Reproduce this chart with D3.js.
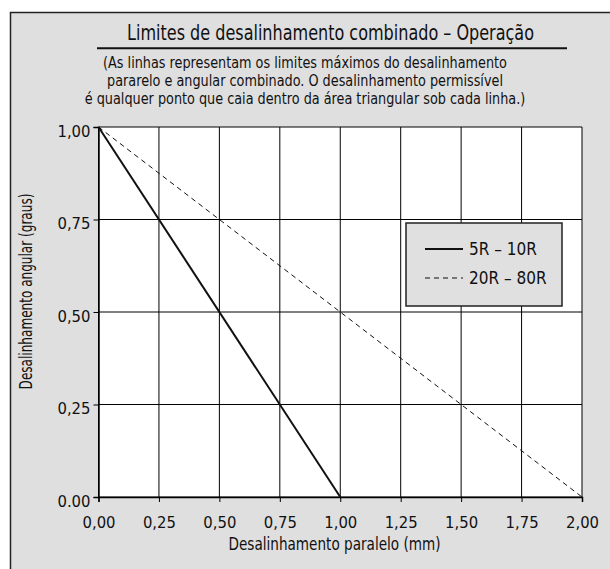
<!DOCTYPE html>
<html>
<head>
<meta charset="utf-8">
<script src="https://cdn.jsdelivr.net/npm/d3@7"></script>
<style>
  body { margin: 0; background: #fff; }
  text { font-family: "DejaVu Sans Condensed", "Roboto", sans-serif; fill: #111; }
</style>
</head>
<body>
<div id="chart"></div>
<script>
// chart data
const xTicks = [0, 0.25, 0.5, 0.75, 1, 1.25, 1.5, 1.75, 2];
const xTickLabels = ["0,00", "0,25", "0,50", "0,75", "1,00", "1,25", "1,50", "1,75", "2,00"];
const yTicks = [0, 0.25, 0.5, 0.75, 1];
const yTickLabels = ["0.00", "0,25", "0,50", "0,75", "1,00"];
const seriesNames = ["5R – 10R", "20R – 80R"];
const series5R = [{x: 0, y: 1}, {x: 1, y: 0}];
const series20R = [{x: 0, y: 1}, {x: 2, y: 0}];
const subtitleLines = [
  "(As linhas representam os limites máximos do desalinhamento",
  "pararelo e angular combinado. O desalinhamento permissível",
  "é qualquer ponto que caia dentro da área triangular sob cada linha.)"
];

const W = 610, H = 569;
const svg = d3.select("#chart").append("svg")
  .attr("width", W).attr("height", H);

// squeeze a text horizontally so it looks like the condensed face of the original
function narrow(sel, cx, cy, sx, rot) {
  sel.attr("text-anchor", "middle")
    .attr("transform", `translate(${cx},${cy})` + (rot ? ` rotate(${rot})` : "") + ` scale(${sx},1)`);
}

// grey panel with border on left and top
svg.append("rect").attr("x", 10).attr("y", 12).attr("width", W - 10).attr("height", H - 12)
  .attr("fill", "#dfdfdf");
svg.append("path").attr("d", `M10.5,${H} V12.5 H${W}`)
  .attr("fill", "none").attr("stroke", "#222").attr("stroke-width", 1.5);

const x = d3.scaleLinear().domain([0, 2]).range([98.5, 582]);
const y = d3.scaleLinear().domain([0, 1]).range([497, 127]);

// plot area
svg.append("rect")
  .attr("x", x(0)).attr("y", y(1))
  .attr("width", x(2) - x(0)).attr("height", y(0) - y(1))
  .attr("fill", "#fff");

// grid
const grid = svg.append("g").attr("stroke", "#000").attr("stroke-width", 1);
grid.selectAll(".vx").data(xTicks).join("line")
  .attr("x1", d => x(d)).attr("x2", d => x(d))
  .attr("y1", y(0)).attr("y2", y(1));
grid.selectAll(".hy").data(yTicks).join("line")
  .attr("x1", x(0)).attr("x2", x(2))
  .attr("y1", d => y(d)).attr("y2", d => y(d));

// axes
const xAxis = svg.append("g").attr("transform", `translate(0,${y(0)})`)
  .call(d3.axisBottom(x).tickValues(xTicks).tickFormat((d, i) => xTickLabels[i]).tickSize(5).tickPadding(14));
const yAxis = svg.append("g").attr("transform", `translate(${x(0)},0)`)
  .call(d3.axisLeft(y).tickValues(yTicks).tickFormat((d, i) => yTickLabels[i]).tickSize(5).tickPadding(3));
[xAxis, yAxis].forEach(a => {
  a.select(".domain").attr("stroke", "#000").attr("stroke-width", 1.5);
  a.selectAll(".tick line").attr("stroke", "#000");
  a.selectAll("text").attr("font-size", 16.5).attr("fill", "#111")
    .style("font-family", '"DejaVu Sans Condensed", sans-serif');
});
yAxis.selectAll("text").attr("dy", "0.55em");

// lines
const line = d3.line().x(d => x(d.x)).y(d => y(d.y));
svg.append("path").datum(series20R).attr("d", line)
  .attr("fill", "none").attr("stroke", "#111").attr("stroke-width", 1)
  .attr("stroke-dasharray", "5,4");
svg.append("path").datum(series5R).attr("d", line)
  .attr("fill", "none").attr("stroke", "#111").attr("stroke-width", 2);

// titles
svg.append("text").attr("font-size", 20.5)
  .text("Limites de desalinhamento combinado – Operação")
  .call(narrow, 330.5, 40, 0.87);
svg.append("line").attr("x1", 97).attr("x2", 567).attr("y1", 48.3).attr("y2", 48.3)
  .attr("stroke", "#111").attr("stroke-width", 2);
svg.append("g").selectAll("text").data(subtitleLines).join("text")
  .attr("font-size", 16.5).text(d => d)
  .each(function (d, i) { d3.select(this).call(narrow, 305, 68 + i * 18, 0.865); });

svg.append("text").attr("font-size", 18)
  .text("Desalinhamento paralelo (mm)")
  .call(narrow, 334.5, 550, 0.84);
svg.append("text").attr("font-size", 17)
  .text("Desalinhamento angular (graus)")
  .call(narrow, 32, 291.5, 0.79, -90);

// legend
const lg = svg.append("g").attr("transform", "translate(406,223)");
lg.append("rect").attr("width", 156).attr("height", 83)
  .attr("fill", "#e0e0e0").attr("stroke", "#222").attr("stroke-width", 1.5);
const items = lg.selectAll("g").data(seriesNames).join("g")
  .attr("transform", (d, i) => `translate(19,${26 + i * 29})`);
items.append("line").attr("x1", 0).attr("x2", 38)
  .attr("stroke", "#111").attr("stroke-width", (d, i) => i === 0 ? 2 : 1)
  .attr("stroke-dasharray", (d, i) => i === 0 ? null : "5,4");
items.append("text").attr("x", 44).attr("dy", "0.35em").attr("font-size", 17).text(d => d);
</script>
</body>
</html>
